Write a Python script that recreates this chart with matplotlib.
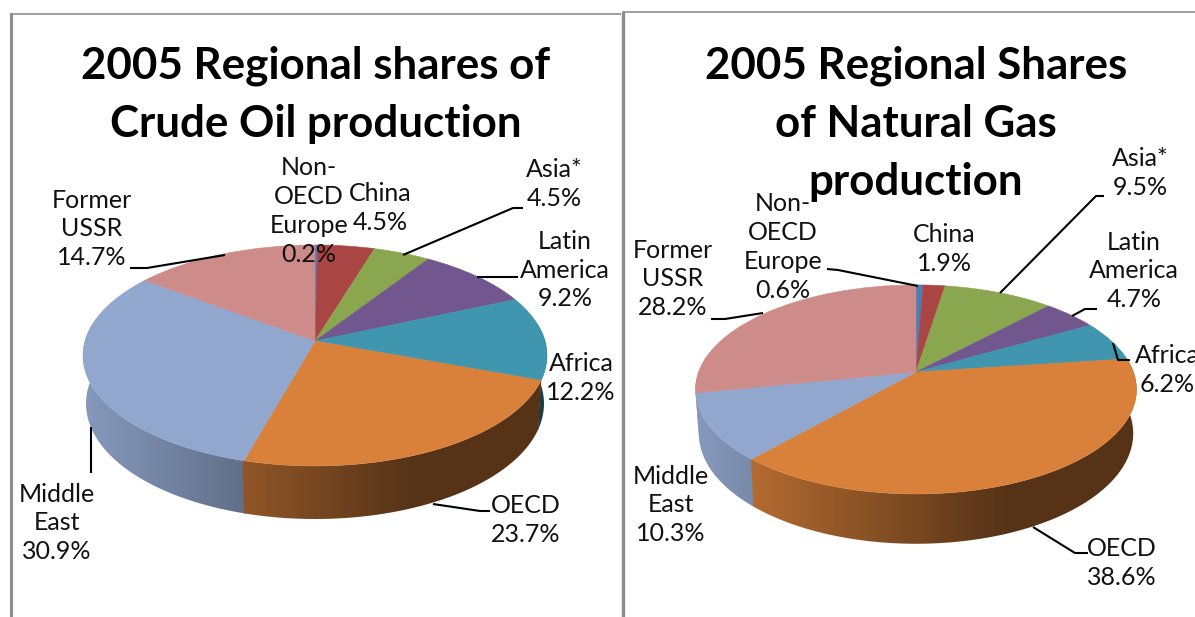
import numpy as np
import matplotlib
matplotlib.use("Agg")
import matplotlib.pyplot as plt
from matplotlib.patches import Polygon
from matplotlib.transforms import Transform

# ---- data ----
categories = ["Non-\nOECD\nEurope", "China", "Asia*", "Latin\nAmerica", "Africa", "OECD", "Middle\nEast", "Former\nUSSR"]
oil_values = [0.2, 4.5, 4.5, 9.2, 12.2, 23.7, 30.9, 14.7]
gas_values = [0.6, 1.9, 9.5, 4.7, 6.2, 38.6, 10.3, 28.2]
colors = ["#4a7ebb", "#a94643", "#8aa64e", "#72578f", "#3f96ae", "#d9813b", "#92a7ce", "#cd8c8a"]
oil_title = "2005 Regional shares of\nCrude Oil production"
gas_title = "2005 Regional Shares\nof Natural Gas\nproduction"

plt.rcParams["font.family"] = ["Lato", "DejaVu Sans"]
W, H = 1195, 617
fig = plt.figure(figsize=(W / 100, H / 100), dpi=100, facecolor="white")
ax = fig.add_axes([0, 0, 1, 1])


class Tilt(Transform):
    """Perspective view of the unit-circle pie plane, in pixel units."""
    input_dims = output_dims = 2
    has_inverse = False
    is_affine = False

    def __init__(self, cx, cy, rx, ry, k, depth=0.0, s=1.0):
        super().__init__()
        self.p = (cx, cy, rx, ry, k, depth, s)

    def transform_non_affine(self, xy):
        cx, cy, rx, ry, k, depth, s = self.p
        xy = np.asarray(xy, float)
        d = 1 + k * xy[:, 1]
        return np.column_stack([cx + s * rx * xy[:, 0] / d,
                                cy + (depth - s * ry * xy[:, 1]) / d])


def draw_pie(values, g):
    cx, cy, rx, ry, k, depth, s = g
    top = Tilt(cx, cy, rx, ry, k)
    base = Tilt(cx, cy, rx, ry, k, depth, s)
    edges = np.concatenate([[0], np.cumsum(values)]) / np.sum(values) * 2 * np.pi
    xmin, xmax = cx - rx * 1.01, cx + rx * 1.01
    # side wall
    for i in range(len(values)):
        th = np.linspace(edges[i] - 0.004, edges[i + 1] + 0.004, 200)
        th = th[np.cos(th) < 0.15]
        if len(th) < 2:
            continue
        unit = np.column_stack([np.sin(th), np.cos(th)])
        pts = np.vstack([top.transform_non_affine(unit), base.transform_non_affine(unit)[::-1]])
        x0, x1 = pts[:, 0].min() - 1, pts[:, 0].max() + 1
        y0, y1 = pts[:, 1].min() - 1, pts[:, 1].max() + 1
        xs = np.linspace(x0, x1, 256)
        t = (xs - xmin) / (xmax - xmin)
        f = np.clip(0.92 - 0.74 * t, 0.40, 1)
        rgb = np.array(matplotlib.colors.to_rgb(colors[i]))
        img = (f[:, None] * rgb)[None, :, :]
        im = ax.imshow(img, extent=(x0, x1, y1, y0), aspect="auto", zorder=1 + (1 - np.cos(th).mean()) / 4,
                       interpolation="bilinear")
        clip = Polygon(pts, closed=True, transform=ax.transData, fc="none", ec="none")
        im.set_clip_path(clip)
    # top face
    wedges, _ = ax.pie(values, colors=colors, startangle=90, counterclock=False,
                       wedgeprops={"linewidth": 0.4})
    for w, c in zip(wedges, colors):
        w.set_transform(top + ax.transData)
        w.set_zorder(2)
        w.set_edgecolor(c)


draw_pie(oil_values, (315, 341, 230, 108.6, 0.131, 47.5, 0.987))
draw_pie(gas_values, (916, 372, 217.4, 101.6, 0.167, 43, 0.985))

ax.set_aspect("auto")
ax.set_xlim(0, W)
ax.set_ylim(H, 0)
ax.axis("off")

# ---- panel frames ----
frame = dict(color="#8c8c8c", zorder=5, solid_capstyle="butt")
ax.plot([11, 11], [13, H], lw=2.2, **frame)
ax.plot([10, 621], [13.5, 13.5], lw=1.2, **frame)
ax.plot([623.5, 623.5], [11, H], lw=2.4, **frame)
ax.plot([623, W], [12, 12], lw=1.2, **frame)

# ---- leader lines ----
leaders = [
    [(523, 208), (513, 208), (403, 255)],
    [(518, 277), (477, 277)],
    [(130, 268), (147, 268), (225, 255)],
    [(91, 427), (91, 473)],
    [(490, 511), (480, 511), (433, 504)],
    [(827, 269), (838, 270), (918, 286)],
    [(711, 319), (725, 319), (763, 313)],
    [(1104, 196), (1096, 196), (1000, 293)],
    [(1097, 309), (1085, 309), (1072, 316)],
    [(1130, 360), (1118, 360), (1113, 343)],
    [(1088, 553), (1075, 553), (1033, 527)],
]
for seg in leaders:
    xs, ys = zip(*seg)
    ax.plot(xs, ys, color="black", lw=1.5, zorder=3, solid_capstyle="butt")

# ---- labels ----
oil_pos = [(309, 211), (380, 208), (554, 184), (565, 270), (581, 378), (526, 520), (57, 523), (92, 229)]
gas_pos = [(783, 247), (944, 249), (1140, 173), (1134, 271), (1167, 370), (1122, 563), (671, 505), (673, 279)]
for vals, pos in ((oil_values, oil_pos), (gas_values, gas_pos)):
    for name, v, (x, y) in zip(categories, vals, pos):
        ax.text(x, y, f"{name}\n{v:.1f}%", ha="center", va="center", fontsize=18,
                linespacing=1.31, color="#111111", zorder=6, clip_on=True)

ax.text(316, 95, oil_title, ha="center", va="center", fontsize=31.6, fontweight="bold",
        linespacing=1.54, color="black", zorder=4)
ax.text(916, 124, gas_title, ha="center", va="center", fontsize=31.6, fontweight="bold",
        linespacing=1.54, color="black", zorder=4)

fig.savefig("out.png", dpi=100, facecolor="white")
